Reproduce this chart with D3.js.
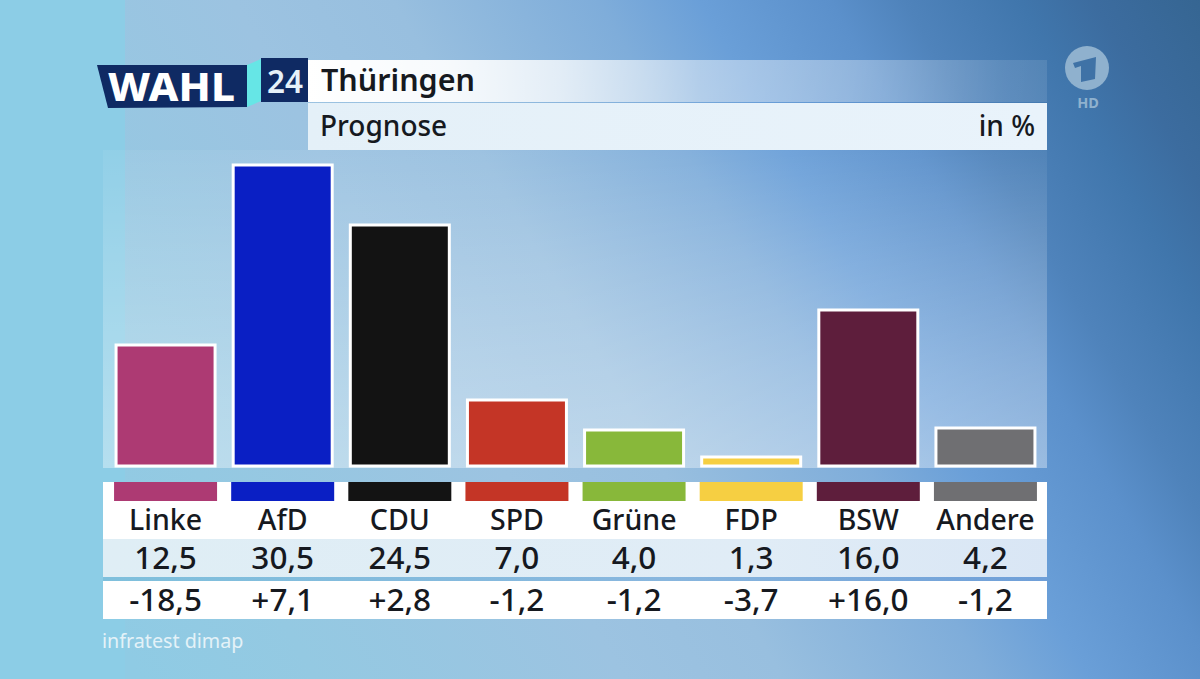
<!DOCTYPE html>
<html lang="de">
<head>
<meta charset="UTF-8">
<title>Wahl 24 Thüringen Prognose</title>
<script src="https://cdn.jsdelivr.net/npm/d3@7"></script>
<style>
    html, body { margin: 0; padding: 0; background: #6fa3d0; overflow: hidden; }
    svg { display: block; font-family: "Noto Sans", "Open Sans", sans-serif; }
</style>
</head>
<body>
<svg id="chart" width="1200" height="679"></svg>
<script>
// values
const parties = ["Linke", "AfD", "CDU", "SPD", "Grüne", "FDP", "BSW", "Andere"];
const results = [12.5, 30.5, 24.5, 7.0, 4.0, 1.3, 16.0, 4.2];
const changes = ["-18,5", "+7,1", "+2,8", "-1,2", "-1,2", "-3,7", "+16,0", "-1,2"];
const colors = ["#ad3a73", "#0a1fc4", "#131313", "#c43526", "#88b83a", "#f6cf42", "#5e1e3c", "#6f6f72"];

const svg = d3.select("#chart");
const defs = svg.append("defs");

function gradient(id, x1, y1, x2, y2, stops, units) {
    const g = defs.append("linearGradient").attr("id", id)
        .attr("gradientUnits", units || "objectBoundingBox")
        .attr("x1", x1).attr("y1", y1).attr("x2", x2).attr("y2", y2);
    stops.forEach(s => g.append("stop").attr("offset", s[0]).attr("stop-color", s[1]).attr("stop-opacity", s[2] === undefined ? 1 : s[2]));
}

// background, tilted so that the top right is the darkest
gradient("bg", 125, 650, 1221, 20, [
    [0, "#8fcbe4"], [0.12, "#94c9e2"], [0.33, "#9cc3e1"], [0.44, "#98bfdf"], [0.58, "#7fadda"],
    [0.65, "#6a9fd8"], [0.74, "#5b90cb"], [0.79, "#4f83bb"], [0.87, "#4076ac"], [0.92, "#3c6c9f"], [1, "#356591"]
], "userSpaceOnUse");
gradient("panel", 0, 0, 0, 1, [[0, "#fff", 0.05], [0.35, "#fff", 0.17], [0.7, "#fff", 0.28], [1, "#fff", 0.36]]);
gradient("titleBar", 0, 0, 1, 0, [[0, "#fff", 1], [0.19, "#fff", 0.92], [0.34, "#fff", 0.76], [0.53, "#fff", 0.45], [0.73, "#fff", 0.33], [0.94, "#fff", 0.12], [1, "#fff", 0.1]]);
gradient("subBar", 0, 0, 1, 0, [[0, "#e4f0f8"], [1, "#e9f3fb"]]);
gradient("valueRow", 0, 0, 1, 0, [[0, "#dfeef5"], [0.7, "#e0ecf6"], [1, "#d9e6f5"]]);
gradient("rule", 0, 0, 1, 0, [[0, "#7fc0dc"], [0.6, "#88b6de"], [1, "#6f9fd8"]]);

svg.append("rect").attr("width", 1200).attr("height", 679).attr("fill", "url(#bg)");
svg.append("rect").attr("width", 125).attr("height", 679).attr("fill", "#8ccde6");

// chart panel behind the bars
svg.append("rect").attr("x", 103).attr("y", 150).attr("width", 944).attr("height", 318).attr("fill", "url(#panel)");

// scales
const x = d3.scaleBand().domain(parties).range([107, 1044]).paddingInner(0.12).paddingOuter(0.06);
const y = d3.scaleLinear().domain([0.4, 30.5]).range([466, 165]);
const cx = d => x(d) + x.bandwidth() / 2;

// bars
svg.selectAll("rect.bar").data(parties).join("rect")
    .attr("class", "bar")
    .attr("x", d => cx(d) - 49.5)
    .attr("width", 99)
    .attr("y", (d, i) => y(results[i]))
    .attr("height", (d, i) => y(0.4) - y(results[i]))
    .attr("fill", (d, i) => colors[i])
    .attr("stroke", "#fff")
    .attr("stroke-width", 3);

// table rows
svg.append("rect").attr("x", 103).attr("y", 482).attr("width", 944).attr("height", 57).attr("fill", "#fff");
svg.append("rect").attr("x", 103).attr("y", 539).attr("width", 944).attr("height", 38).attr("fill", "url(#valueRow)");
svg.append("rect").attr("x", 103).attr("y", 577).attr("width", 944).attr("height", 4).attr("fill", "url(#rule)");
svg.append("rect").attr("x", 103).attr("y", 581).attr("width", 944).attr("height", 38).attr("fill", "#fff");

svg.selectAll("rect.chip").data(parties).join("rect")
    .attr("class", "chip")
    .attr("x", d => cx(d) - 51.5)
    .attr("y", 482)
    .attr("width", 103)
    .attr("height", 19)
    .attr("fill", (d, i) => colors[i]);

function row(cls, labels, baseline, size) {
    svg.selectAll("text." + cls).data(labels).join("text")
        .attr("class", cls)
        .attr("x", (d, i) => cx(parties[i]))
        .attr("y", baseline)
        .attr("text-anchor", "middle")
        .attr("font-size", size)
        .attr("font-weight", 500)
        .attr("fill", "#16191f")
        .text(d => d);
}
row("name", parties, 530, 28.5);
row("result", results.map(v => d3.format(".1f")(v).replace(".", ",")), 569, 31.5);
row("change", changes, 611, 31.5);

// header
svg.append("rect").attr("x", 308).attr("y", 60).attr("width", 739).attr("height", 42).attr("fill", "url(#titleBar)");
svg.append("rect").attr("x", 308).attr("y", 103).attr("width", 739).attr("height", 47).attr("fill", "url(#subBar)");
svg.append("text").attr("x", 321).attr("y", 91).attr("font-size", 30.5).attr("font-weight", 600).attr("fill", "#16191f").text("Thüringen");
svg.append("text").attr("x", 320).attr("y", 136).attr("font-size", 28).attr("font-weight", 500).attr("fill", "#16191f").text("Prognose");
svg.append("text").attr("x", 1035).attr("y", 136).attr("text-anchor", "end").attr("font-size", 28).attr("font-weight", 500).attr("fill", "#16191f").text("in %");

// WAHL 24 logo
const line = d3.line();
svg.append("path").attr("d", line([[97, 65], [247, 65], [247, 107], [108, 108]]) + "Z").attr("fill", "#0f2a63");
svg.append("path").attr("d", line([[247, 65], [261, 59], [261, 101], [247, 107]]) + "Z").attr("fill", "#66e6e6");
svg.append("rect").attr("x", 261).attr("y", 58).attr("width", 47).attr("height", 44).attr("fill", "#0f2a63");
svg.append("text").attr("x", 108).attr("y", 101).attr("font-size", 39).attr("font-weight", 800)
    .attr("textLength", 127).attr("lengthAdjust", "spacingAndGlyphs").attr("fill", "#fff").text("WAHL");
svg.append("text").attr("x", 285).attr("y", 93).attr("text-anchor", "middle").attr("font-size", 33).attr("font-weight", 600)
    .attr("textLength", 36).attr("lengthAdjust", "spacingAndGlyphs").attr("fill", "#e6f1f9").text("24");

// source
svg.append("text").attr("x", 102).attr("y", 648).attr("font-size", 19.7).attr("fill", "#e4f2f8").text("infratest dimap");

// ARD logo
svg.append("circle").attr("cx", 1087).attr("cy", 68).attr("r", 22).attr("fill", "#8fb1ce");
svg.append("path").attr("d", line([[1073, 63], [1096, 57], [1095, 79], [1081, 82], [1081, 66], [1075, 68]]) + "Z").attr("fill", "#3f72a6");
svg.append("text").attr("x", 1088).attr("y", 108).attr("text-anchor", "middle").attr("font-size", 14.5).attr("font-weight", 700).attr("fill", "#8fb1ce").text("HD");
</script>
</body>
</html>
